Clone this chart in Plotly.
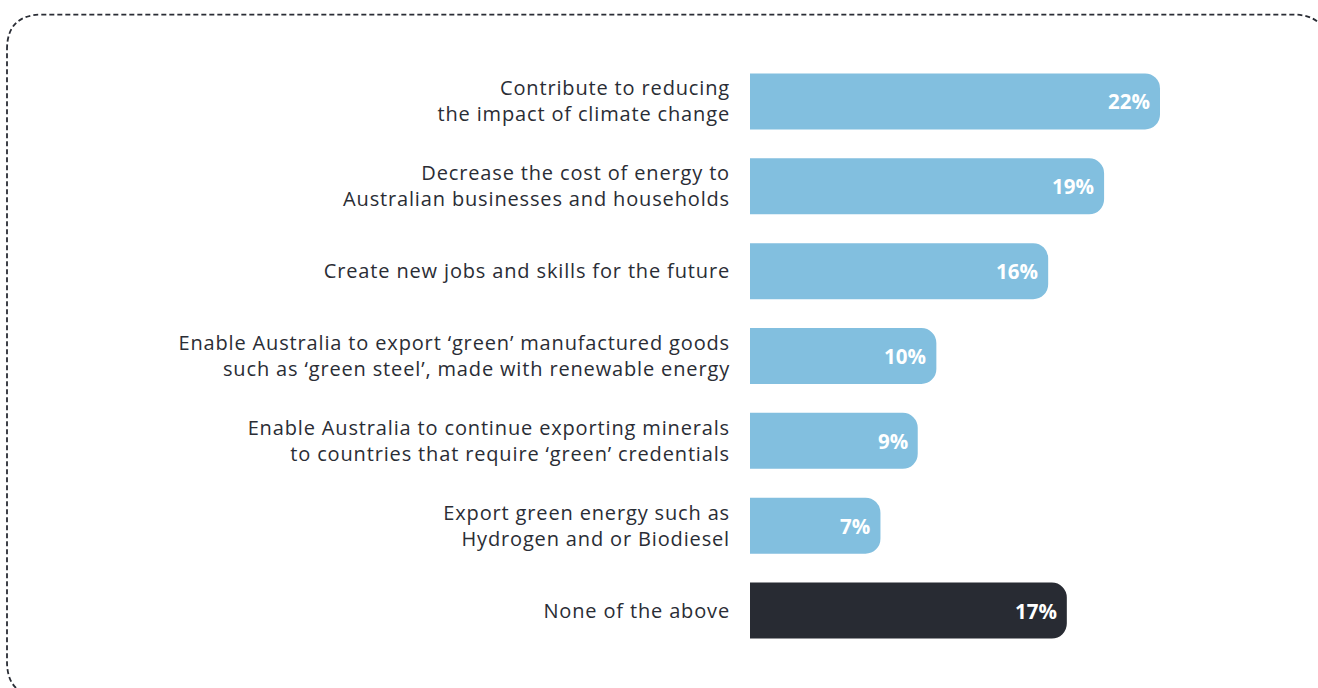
import plotly.graph_objects as go

categories = [
    "Contribute to reducing<br>the impact of climate change",
    "Decrease the cost of energy to<br>Australian businesses and households",
    "Create new jobs and skills for the future",
    "Enable Australia to export ‘green’ manufactured goods<br>such as ‘green steel’, made with renewable energy",
    "Enable Australia to continue exporting minerals<br>to countries that require ‘green’ credentials",
    "Export green energy such as<br>Hydrogen and or Biodiesel",
    "None of the above",
]
values = [22, 19, 16, 10, 9, 7, 17]
value_labels = ["22%", "19%", "16%", "10%", "9%", "7%", "17%"]
colors = ["#82BFDF"] * 6 + ["#282B33"]

W, H = 1318, 688
L, R, T, B = 750, 100, 58.5, 34.5
pw, ph = W - L - R, H - T - B
xmax = pw / (410 / 22)

fig = go.Figure()
fig.add_trace(go.Bar(
    y=categories, x=values, orientation="h",
    marker=dict(color=colors, line=dict(width=0)),
    hoverinfo="skip",
))

for c, v, t in zip(categories, values, value_labels):
    fig.add_annotation(x=v, y=c, text="<b>" + t + "</b>", showarrow=False,
                       xanchor="right", xshift=-8,
                       font=dict(family="Open Sans", size=20.5, color="white"))

# dashed rounded frame
def px(x):
    return (x - L) / pw
def py(y):
    return (H - B - y) / ph
x0, y0, x1, y1, r = 7, 14, 1328, 697, 35
path = (f"M {px(x0)} {py(y0 + r)} Q {px(x0)} {py(y0)} {px(x0 + r)} {py(y0)} "
        f"L {px(x1 - r)} {py(y0)} Q {px(x1)} {py(y0)} {px(x1)} {py(y0 + r)} "
        f"L {px(x1)} {py(y1 - r)} Q {px(x1)} {py(y1)} {px(x1 - r)} {py(y1)} "
        f"L {px(x0 + r)} {py(y1)} Q {px(x0)} {py(y1)} {px(x0)} {py(y1 - r)} Z")
fig.add_shape(type="path", path=path, xref="paper", yref="paper",
              line=dict(color="#2A2D35", width=1.8, dash="5px,3px"), layer="below")

fig.update_layout(
    width=W, height=H,
    margin=dict(l=L, r=R, t=T, b=B, autoexpand=False),
    paper_bgcolor="white", plot_bgcolor="white",
    bargap=0.34, barcornerradius=15,
    showlegend=False,
    font=dict(family="Open Sans", size=20, color="#2A2D35"),
    xaxis=dict(range=[0, xmax], visible=False, fixedrange=True),
    yaxis=dict(autorange=False, range=[6.5, -0.5], showgrid=False, zeroline=False,
               showline=False, ticks="outside", ticklen=15, tickcolor="rgba(0,0,0,0)",
               tickfont=dict(family="Open Sans", size=20, color="#2A2D35")),
)

post = """
document.querySelectorAll('.ytick text').forEach(function(t){
  t.style.letterSpacing = '0.85px';
});
"""
fig.write_html("out.html", post_script=post)
